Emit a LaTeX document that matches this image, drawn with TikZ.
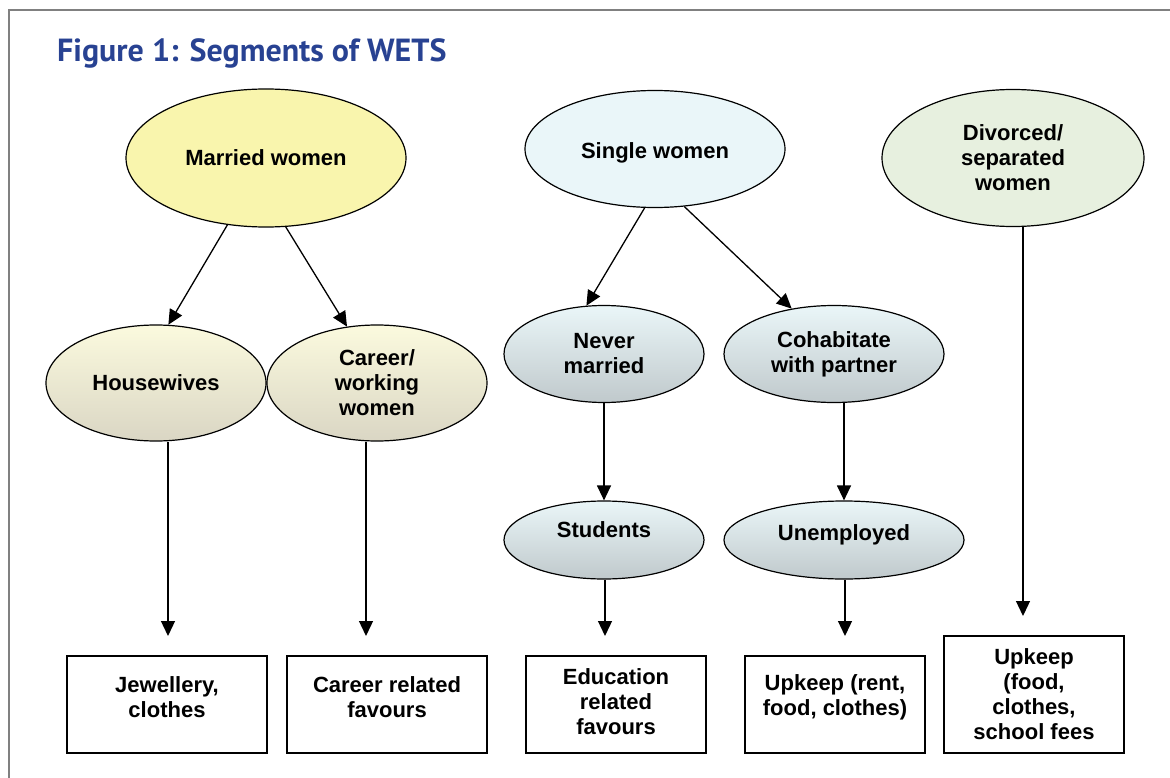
\documentclass[tikz,border=0pt]{standalone}
\usepackage{fontspec}
\setmainfont{Liberation Sans}
\newfontfamily\titlefont{PT Sans}
\usetikzlibrary{shapes.geometric,arrows.meta,shadows}
\definecolor{titleblue}{RGB}{40,66,146}
\definecolor{framegray}{RGB}{128,128,128}
\definecolor{marfill}{RGB}{249,245,173}
\definecolor{sinfill}{RGB}{234,246,249}
\definecolor{divfill}{RGB}{231,240,223}
\definecolor{ytop}{RGB}{251,250,222}
\definecolor{ybot}{RGB}{218,214,196}
\definecolor{btop}{RGB}{234,246,248}
\definecolor{bbot}{RGB}{192,201,204}
\tikzset{
  nodefont/.style={font=\fontsize{22}{25}\selectfont\bfseries},
  ell/.style={ellipse, draw=black, line width=1.2pt, inner sep=0pt, align=center, nodefont},
  yell/.style={ell, top color=ytop, bottom color=ybot},
  bell/.style={ell, top color=btop, bottom color=bbot},
  outbox/.style={draw=black, line width=1.6pt, fill=white, inner sep=0pt,
     drop shadow={shadow xshift=1.2pt, shadow yshift=-1.2pt, fill=gray!70, opacity=1}},
  boxtxt/.style={align=center, inner sep=0pt, nodefont},
  arr/.style={line width=1.3pt, -{Triangle[length=15pt,width=14pt]}},
}
\begin{document}
\begin{tikzpicture}[x=1pt,y=-1pt]
\useasboundingbox (0,0) rectangle (1170,778);
\draw[framegray, line width=2pt] (9,778) -- (9,10) -- (1172,10);
\node[anchor=base west, text=titleblue, inner sep=0pt, font=\titlefont\fontsize{32}{38}\selectfont\bfseries] (title) at (57,62) {Figure 1: Segments of WETS};

% top level
\node[ell, fill=marfill, minimum width=280pt, minimum height=138pt] (married) at (266,158) {Married women};
\node[ell, fill=sinfill, minimum width=260pt, minimum height=117pt, text height=24pt] (single) at (655,149) {Single women};
\node[ell, fill=divfill, minimum width=262pt, minimum height=137pt] (divorced) at (1013,158) {Divorced/\\separated\\women};

% second level
\node[yell, minimum width=220pt, minimum height=116pt] (house) at (156,383) {Housewives};
\node[yell, minimum width=220pt, minimum height=116pt] (career) at (377,383) {Career/\\working\\women};
\node[bell, minimum width=200pt, minimum height=97pt] (never) at (604,354) {Never\\married};
\node[bell, minimum width=220pt, minimum height=97pt] (cohab) at (834,354) {Cohabitate\\with partner};

% third level
\node[bell, minimum width=200pt, minimum height=78pt, text depth=20pt] (students) at (604,540) {Students};
\node[bell, minimum width=240pt, minimum height=78pt, text depth=14.6pt] (unemp) at (844,540) {Unemployed};

% boxes
\node[outbox, minimum width=200pt, minimum height=97pt] (jw) at (167,704.5) {};
\node[outbox, minimum width=200pt, minimum height=97pt] (crf) at (387,704.5) {};
\node[outbox, minimum width=180pt, minimum height=97pt] (edu) at (616,704.5) {};
\node[outbox, minimum width=180pt, minimum height=97pt] (upr) at (835,704.5) {};
\node[outbox, minimum width=180pt, minimum height=117pt] (upf) at (1034,694.5) {};
\node[boxtxt] (jwT) at ([yshift=7.5pt]jw.center) {Jewellery,\\clothes};
\node[boxtxt] (crfT) at ([yshift=7.5pt]crf.center) {Career related\\favours};
\node[boxtxt] (eduT) at ([yshift=2.5pt]edu.center) {Education\\related\\favours};
\node[boxtxt] (uprT) at ([yshift=7pt]upr.center) {Upkeep (rent,\\food, clothes)};
\node[boxtxt] (upfT) at (upf.center) {Upkeep\\(food,\\clothes,\\school fees};

% arrow end points
\coordinate (t1) at (168,636);
\coordinate (t2) at (366,636);
\coordinate (t3) at (605,636);
\coordinate (t4) at (845,636);
\coordinate (t5) at (1023,616);

% connectors
\draw[arr] (married.240.5) -- (house.78.7);
\draw[arr] (married.286.7) -- (career.118.1);
\draw[arr] (single.260.4) -- (never.110.2);
\draw[arr] (single.297.4) -- (cohab.133.3);
\draw[arr] (house.south -| t1) -- (t1);
\draw[arr] (career.south -| t2) -- (t2);
\draw[arr] (never.south) -- (students.north);
\draw[arr] (students.south -| t3) -- (t3);
\draw[arr] (cohab.south -| unemp.north) -- (unemp.north);
\draw[arr] (unemp.south -| t4) -- (t4);
\draw[arr] (divorced.south -| t5) -- (t5);
\end{tikzpicture}
\end{document}
